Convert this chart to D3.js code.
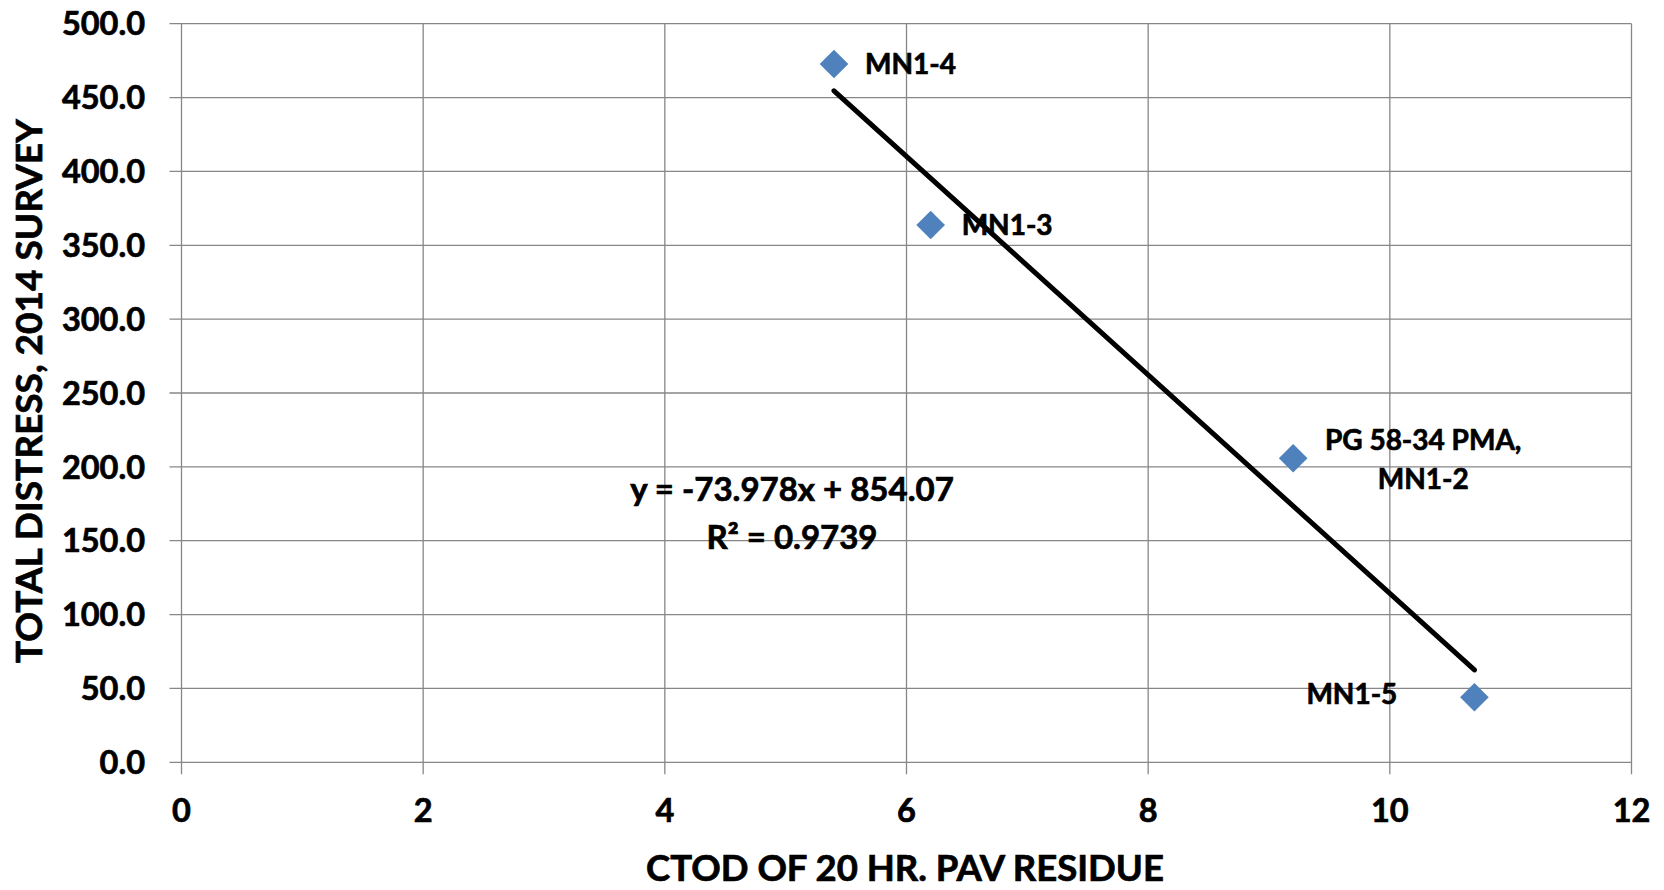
<!DOCTYPE html>
<html>
<head>
<meta charset="utf-8">
<script src="https://cdn.jsdelivr.net/npm/d3@7/dist/d3.min.js"></script>
<style>
  html, body { margin: 0; padding: 0; background: #fff; }
  svg { display: block; }
  text { font-family: Lato, "Open Sans", sans-serif; font-weight: 700; fill: #000; stroke: #000; stroke-width: 0.7px; }
</style>
</head>
<body>
<script>
// ---- data ----
const labels = ["MN1-4", "MN1-3", "PG 58-34 PMA,\nMN1-2", "MN1-5"];
const xValues = [5.4, 6.2, 9.2, 10.7];
const yValues = [472.7, 363.7, 205.8, 44.0];
const xTicks = [0, 2, 4, 6, 8, 10, 12];
const yTicks = [0, 50, 100, 150, 200, 250, 300, 350, 400, 450, 500];
const slope = -73.978;
const intercept = 854.07;
const equationLines = ["y = -73.978x + 854.07", "R² = 0.9739"];
const xTitle = "CTOD OF 20 HR. PAV RESIDUE";
const yTitle = "TOTAL DISTRESS, 2014 SURVEY";

const W = 1664, H = 890;
const svg = d3.select("body").append("svg").attr("width", W).attr("height", H);

const x = d3.scaleLinear().domain([0, 12]).range([181.5, 1631.5]);
const y = d3.scaleLinear().domain([0, 500]).range([762.3, 23.7]);

const gridColor = "#878787";

// horizontal gridlines (extend left as tick marks)
svg.append("g").selectAll("line").data(yTicks).join("line")
  .attr("x1", x(0) - 12).attr("x2", x(12))
  .attr("y1", d => y(d)).attr("y2", d => y(d))
  .attr("stroke", gridColor).attr("stroke-width", 1.3);

// vertical gridlines (extend down as tick marks)
svg.append("g").selectAll("line").data(xTicks).join("line")
  .attr("x1", d => x(d)).attr("x2", d => x(d))
  .attr("y1", y(500)).attr("y2", y(0) + 12)
  .attr("stroke", gridColor).attr("stroke-width", 1.3);

// y tick labels
svg.append("g").selectAll("text").data(yTicks).join("text")
  .attr("x", 145).attr("y", d => y(d))
  .attr("dy", "0.36em")
  .attr("text-anchor", "end")
  .style("font-size", "32.5px")
  .text(d => d3.format(".1f")(d));

// x tick labels
svg.append("g").selectAll("text").data(xTicks).join("text")
  .attr("x", d => x(d)).attr("y", 822)
  .attr("text-anchor", "middle")
  .style("font-size", "32.5px")
  .text(d => d);

// axis titles
svg.append("text")
  .attr("x", 905).attr("y", 881)
  .attr("text-anchor", "middle")
  .style("font-size", "36.5px")
  .text(xTitle);

svg.append("text")
  .attr("transform", "translate(42,391) rotate(-90)")
  .attr("text-anchor", "middle")
  .style("font-size", "37px")
  .text(yTitle);

// trendline
const xMin = d3.min(xValues), xMax = d3.max(xValues);
svg.append("line")
  .attr("x1", x(xMin)).attr("y1", y(slope * xMin + intercept))
  .attr("x2", x(xMax)).attr("y2", y(slope * xMax + intercept))
  .attr("stroke", "#000").attr("stroke-width", 5)
  .attr("stroke-linecap", "round");

// points (diamonds)
const pts = xValues.map((v, i) => ({ x: v, y: yValues[i], label: labels[i] }));
svg.append("g").selectAll("path").data(pts).join("path")
  .attr("d", d3.symbol().type(d3.symbolSquare).size(410))
  .attr("transform", d => `translate(${x(d.x)},${y(d.y)}) rotate(45)`)
  .attr("fill", "#4F81BD");

// data labels
const labelOffsets = [
  { dx: 31, dy: 0, anchor: "start" },
  { dx: 31, dy: 0, anchor: "start" },
  { dx: 130, dy: 1, anchor: "middle" },
  { dx: -168, dy: -3, anchor: "start" }
];
const lg = svg.append("g");
pts.forEach((d, i) => {
  const o = labelOffsets[i];
  const lines = d.label.split("\n");
  const t = lg.append("text")
    .attr("text-anchor", o.anchor)
    .style("font-size", "28px");
  const lineH = 39;
  const startY = y(d.y) + o.dy - (lines.length - 1) * lineH / 2;
  lines.forEach((ln, k) => {
    t.append("tspan")
      .attr("x", x(d.x) + o.dx)
      .attr("y", startY + k * lineH)
      .attr("dy", "0.36em")
      .text(ln);
  });
});

// equation
const eq = svg.append("text")
  .attr("text-anchor", "middle")
  .style("font-size", "33px");
equationLines.forEach((ln, k) => {
  eq.append("tspan").attr("x", 792).attr("y", 501 + k * 48).text(ln);
});
</script>
</body>
</html>
